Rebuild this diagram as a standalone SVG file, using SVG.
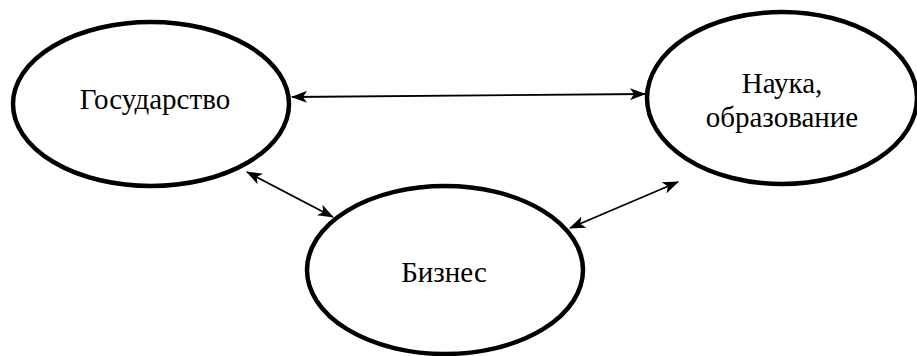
<svg xmlns="http://www.w3.org/2000/svg" width="917" height="356" viewBox="0 0 917 356">
<style>
.node ellipse{fill:#fff;stroke:#000;stroke-width:4.5}
.node text{font-family:"Liberation Serif","Times New Roman",serif;font-size:29px;fill:#000;text-anchor:middle}
.conn line{stroke:#000;stroke-width:1.8;marker-start:url(#ah);marker-end:url(#ah)}
</style>
<defs>
<marker id="ah" viewBox="0 0 16 12" refX="15" refY="6" markerWidth="16" markerHeight="12" markerUnits="userSpaceOnUse" orient="auto-start-reverse">
<path d="M0,0 L16,6 L0,12 L4,6 Z" fill="#000"/>
</marker>
</defs>
<rect width="917" height="356" fill="#fff"/>
<g id="node-gosudarstvo" class="node">
<ellipse cx="151" cy="104" rx="138" ry="82"/>
<text x="155" y="109">Государство</text>
</g>
<g id="node-nauka" class="node">
<ellipse cx="782" cy="98" rx="135" ry="86"/>
<text x="782" y="93">Наука,</text>
<text x="782" y="127">образование</text>
</g>
<g id="node-biznes" class="node">
<ellipse cx="445" cy="270" rx="138" ry="84"/>
<text x="444" y="282">Бизнес</text>
</g>
<g id="connectors" class="conn">
<line x1="292" y1="97" x2="645" y2="94"/>
<line x1="247" y1="172" x2="333" y2="217"/>
<line x1="570" y1="228" x2="678" y2="182"/>
</g>
</svg>
